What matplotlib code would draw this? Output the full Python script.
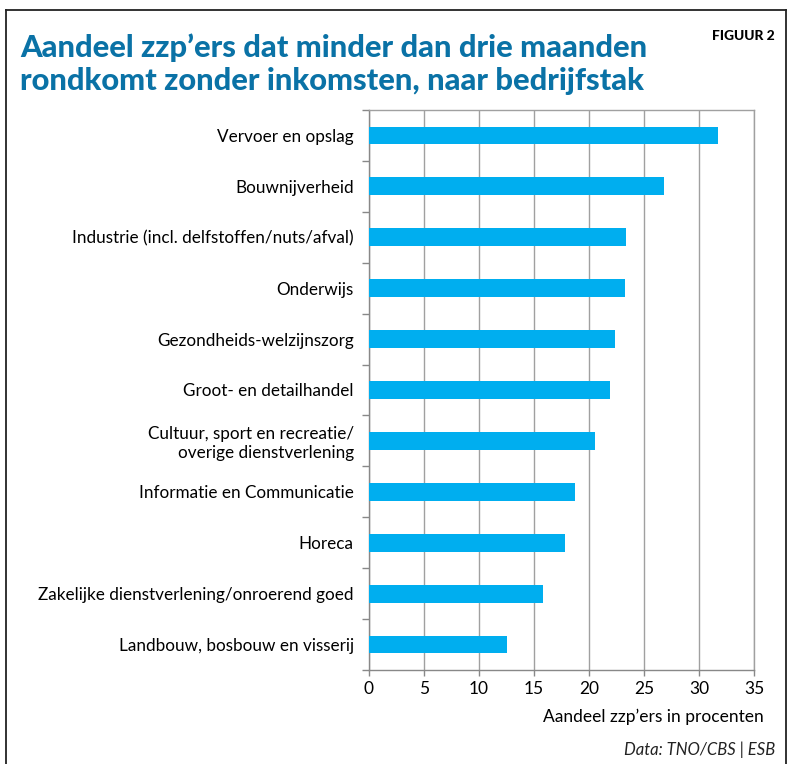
import matplotlib.pyplot as plt
from matplotlib.lines import Line2D

# data
categories = ['Vervoer en opslag', 'Bouwnijverheid', 'Industrie (incl. delfstoffen/nuts/afval)',
              'Onderwijs', 'Gezondheids-welzijnszorg', 'Groot- en detailhandel',
              'Cultuur, sport en recreatie/\noverige dienstverlening', 'Informatie en Communicatie',
              'Horeca', 'Zakelijke dienstverlening/onroerend goed', 'Landbouw, bosbouw en visserij']
values = [31.75, 26.8, 23.4, 23.3, 22.4, 21.9, 20.5, 18.7, 17.85, 15.8, 12.5]
xticks = [0, 5, 10, 15, 20, 25, 30, 35]
title_lines = ["Aandeel zzp\u2019ers dat minder dan drie maanden",
               "rondkomt zonder inkomsten, naar bedrijfstak"]

plt.rcParams['font.family'] = ['Lato', 'DejaVu Sans']

W, H = 790, 764
fig = plt.figure(figsize=(W / 100, H / 100), dpi=100)
ax = fig.add_axes([369 / W, 1 - 670 / H, (754 - 369) / W, (670 - 110) / H])

y = list(range(len(categories)))
ax.barh(y, values, height=0.35, color='#00aeef', zorder=3)
ax.set_ylim(len(categories) - 0.5, -0.5)
ax.set_xlim(0, 35)

ax.set_xticks(xticks)
ax.set_xticklabels([str(t) for t in xticks], fontsize=12.5)
ax.set_yticks(y)
ax.set_yticklabels(categories, fontsize=12.3)
ax.set_yticks([i + 0.5 for i in range(-1, len(categories))], minor=True)
ax.tick_params(axis='y', which='major', length=0, pad=11)
ax.tick_params(axis='y', which='minor', length=5, color='#888888', width=1)
ax.tick_params(axis='x', length=4, color='#888888', width=1, pad=4)
for lab in ax.get_yticklabels():
    lab.set_multialignment('right')

ax.grid(axis='x', color='#a0a0a0', linewidth=1, zorder=0)
for s in ax.spines.values():
    s.set_color('#a0a0a0')
    s.set_linewidth(1)
ax.spines['left'].set_color('#888888')
ax.spines['bottom'].set_color('#888888')

ax.set_xlabel("Aandeel zzp\u2019ers in procenten", fontsize=12.5, loc='right', labelpad=8)
ax.xaxis.label.set_position((1.025, 0))

fig.text(20 / W, 1 - 57 / H, title_lines[0], fontsize=22.2, fontweight='black', color='#0a72a6',
         ha='left', va='baseline')
fig.text(20 / W, 1 - 90 / H, title_lines[1], fontsize=22.2, fontweight='black', color='#0a72a6',
         ha='left', va='baseline')
fig.text(775 / W, 1 - 40 / H, "FIGUUR 2", fontsize=10, fontweight='black', ha='right', va='baseline')
fig.text(775 / W, 1 - 755 / H, "Data: TNO/CBS | ESB", fontsize=12, style='italic', color='#222222',
         ha='right', va='baseline')

# frame
fig.add_artist(Line2D([6 / W, 786 / W], [1 - 10 / H, 1 - 10 / H], color='#222222', lw=1.3))
fig.add_artist(Line2D([6 / W, 6 / W], [0, 1 - 10 / H], color='#222222', lw=1.3))
fig.add_artist(Line2D([786 / W, 786 / W], [0, 1 - 10 / H], color='#222222', lw=1.3))

fig.savefig('out.png', dpi=100)
